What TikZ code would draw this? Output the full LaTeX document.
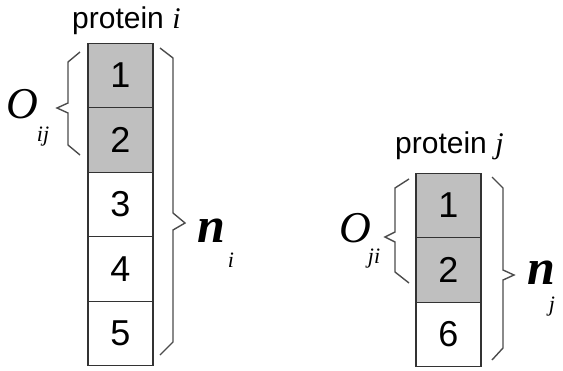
\documentclass[tikz,border=0pt]{standalone}
\usepackage{fontspec}
\setmainfont{Liberation Sans}
\newfontfamily\mathserif{Liberation Serif}
\begin{document}
\begin{tikzpicture}[x=1pt,y=-1pt,
  cell/.style={draw=black!80,line width=1.4pt,minimum width=65pt,minimum height=64.5pt,
    inner sep=0pt,font=\fontsize{36}{36}\selectfont},
  shared/.style={cell,fill=black!25},
  bracket/.style={draw=black!70,line width=1.4pt,line join=miter},
  caption/.style={inner sep=0pt,anchor=base west,font=\fontsize{30}{30}\selectfont},
  bigsym/.style={inner sep=0pt,anchor=base,font=\mathserif\itshape\fontsize{44}{44}\selectfont},
  bigsymb/.style={inner sep=0pt,anchor=base,font=\mathserif\bfseries\itshape\fontsize{50}{50}\selectfont},
  subsym/.style={inner sep=0pt,anchor=base,font=\mathserif\itshape\fontsize{22}{22}\selectfont}]
\useasboundingbox (0,0) rectangle (563,370);

% protein i
\node[caption] (pi) at (72,28) {protein {\mathserif\itshape i}};
\node[shared] (i1) at (120.5,75.5) {1};
\node[shared] (i2) at (120.5,140) {2};
\node[cell] (i3) at (120.5,204.5) {3};
\node[cell] (i4) at (120.5,269) {4};
\node[cell] (i5) at (120.5,333.5) {5};

% protein j
\node[caption] (pj) at (395,153) {protein {\mathserif\itshape j}};
\node[shared] (j1) at (448.5,205.5) {1};
\node[shared] (j2) at (448.5,270) {2};
\node[cell] (j6) at (448.5,334.5) {6};

% overlap bracket on protein i
\draw[bracket] (80,52) -- (68,62) -- (68,103) -- (57,108) -- (68,113) -- (68,145) -- (80,155);
\node[bigsym] (oij) at (22.5,118) {O};
\node[subsym] (oijs) at (43,141) {ij};

% size bracket on protein i
\draw[bracket] (160,48) -- (173,58) -- (173,213) -- (185,223) -- (173,230) -- (173,342) -- (160,355);
\node[bigsymb] (ni) at (211,242) {n};
\node[subsym] (nis) at (231,267) {i};

% overlap bracket on protein j
\draw[bracket] (409,179) -- (395,188) -- (395,232) -- (385,237) -- (395,242) -- (395,272) -- (409,283);
\node[bigsym] (oji) at (355,242) {O};
\node[subsym] (ojis) at (374,263) {ji};

% size bracket on protein j
\draw[bracket] (492,177) -- (503,188) -- (503,270) -- (514,275) -- (503,280) -- (503,348) -- (492,360);
\node[bigsymb] (nj) at (541,284) {n};
\node[subsym] (njs) at (552,311) {j};
\end{tikzpicture}
\end{document}
